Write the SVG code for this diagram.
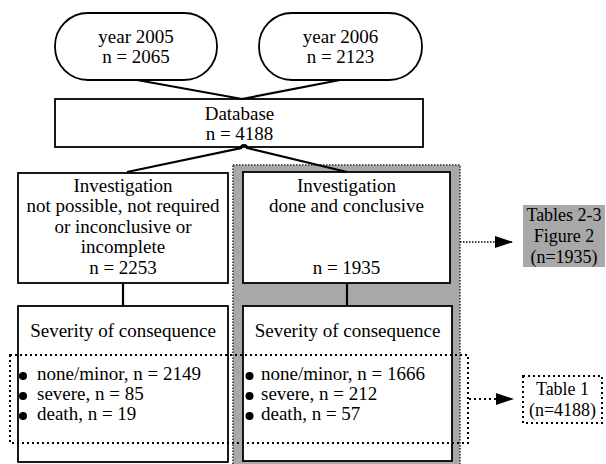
<svg xmlns="http://www.w3.org/2000/svg" width="606" height="464" viewBox="0 0 606 464">
<style>
text{font-family:"Liberation Serif","Times New Roman",serif;font-size:19px;fill:#000}
.c{text-anchor:middle}
.box{fill:#fff;stroke:#000;stroke-width:1.8}
.con{fill:none;stroke:#000;stroke-width:2.2}
.dot{fill:none;stroke:#000;stroke-width:2;stroke-dasharray:2,3}
.gdot{stroke:#555;stroke-width:2;stroke-dasharray:1.5,1.5}
.sm{font-size:18px}
.b{fill:#000}
</style>
<defs>
<marker id="ah" markerWidth="18" markerHeight="12" refX="17" refY="6" orient="auto" markerUnits="userSpaceOnUse">
<path d="M0,0 L18,6 L0,12 Z" fill="#000"/>
</marker>
</defs>
<rect width="606" height="464" fill="#fff"/>
<g id="group-conclusive">
<rect x="233" y="165" width="227" height="305" fill="#a8a8a8" class="gdot"/>
</g>
<g id="n-2005">
<rect class="box" x="55" y="13" width="162" height="67" rx="33" ry="33"/>
<text class="c" x="136" y="43">year 2005</text>
<text class="c" x="136" y="63">n = 2065</text>
</g>
<g id="n-2006">
<rect class="box" x="259" y="13" width="163" height="67" rx="33" ry="33"/>
<text class="c" x="340.5" y="43">year 2006</text>
<text class="c" x="340.5" y="63">n = 2123</text>
</g>
<g id="n-database">
<rect class="box" x="55" y="99" width="368" height="48"/>
<text class="c" x="239.5" y="120">Database</text>
<text class="c" x="239.5" y="140">n = 4188</text>
</g>
<g id="n-inv-not">
<rect class="box" x="18" y="173" width="210" height="110"/>
<text class="c" x="123" y="192">Investigation</text>
<text class="c" x="123" y="212">not possible, not required</text>
<text class="c" x="123" y="233">or inconclusive or</text>
<text class="c" x="123" y="253">incomplete</text>
<text class="c" x="123" y="274">n = 2253</text>
</g>
<g id="n-inv-done">
<rect class="box" x="243" y="172" width="207" height="111"/>
<text class="c" x="346.5" y="192">Investigation</text>
<text class="c" x="346.5" y="212">done and conclusive</text>
<text class="c" x="346.5" y="274">n = 1935</text>
</g>
<g id="n-sev-left">
<rect class="box" x="18" y="306" width="210" height="156"/>
<text class="c" x="123" y="337">Severity of consequence</text>
<circle class="b" cx="23" cy="376" r="4"/>
<text x="37" y="380">none/minor, n = 2149</text>
<circle class="b" cx="23" cy="396" r="4"/>
<text x="37" y="400">severe, n = 85</text>
<circle class="b" cx="23" cy="416" r="4"/>
<text x="37" y="420">death, n = 19</text>
</g>
<g id="n-sev-right">
<rect class="box" x="243" y="306" width="209" height="155"/>
<text class="c" x="347.5" y="337">Severity of consequence</text>
<circle class="b" cx="249.5" cy="376" r="4"/>
<text x="261" y="380">none/minor, n = 1666</text>
<circle class="b" cx="249.5" cy="396" r="4"/>
<text x="261" y="400">severe, n = 212</text>
<circle class="b" cx="249.5" cy="416" r="4"/>
<text x="261" y="420">death, n = 57</text>
</g>
<g id="group-outcomes">
<rect class="dot" x="10" y="355" width="458" height="88"/>
</g>
<g id="n-tables23">
<rect x="523" y="205" width="82" height="62" fill="#a8a8a8"/>
<text class="c sm" x="564" y="221">Tables 2-3</text>
<text class="c sm" x="564" y="242">Figure 2</text>
<text class="c sm" x="564" y="263">(n=1935)</text>
</g>
<g id="n-table1">
<rect class="dot" x="523" y="376" width="79" height="47" fill="#fff"/>
<text class="c sm" x="562.5" y="395">Table 1</text>
<text class="c sm" x="562.5" y="416">(n=4188)</text>
</g>
<g id="connectors">
<path class="con" d="M137,80 L242,99 L340,80"/>
<path class="con" d="M127,172 L241,148 A3,3 0 0 1 247,148 L347,172"/>
<line class="con" x1="123" y1="283" x2="123" y2="306"/>
<line class="con" x1="347" y1="283" x2="347" y2="306"/>
<line x1="460" y1="242" x2="512" y2="242" stroke="#000" stroke-width="1.5" stroke-dasharray="1.5,1.5" marker-end="url(#ah)"/>
<line x1="469" y1="399" x2="513" y2="399" stroke="#000" stroke-width="2" stroke-dasharray="2,3" marker-end="url(#ah)"/>
</g>
</svg>
